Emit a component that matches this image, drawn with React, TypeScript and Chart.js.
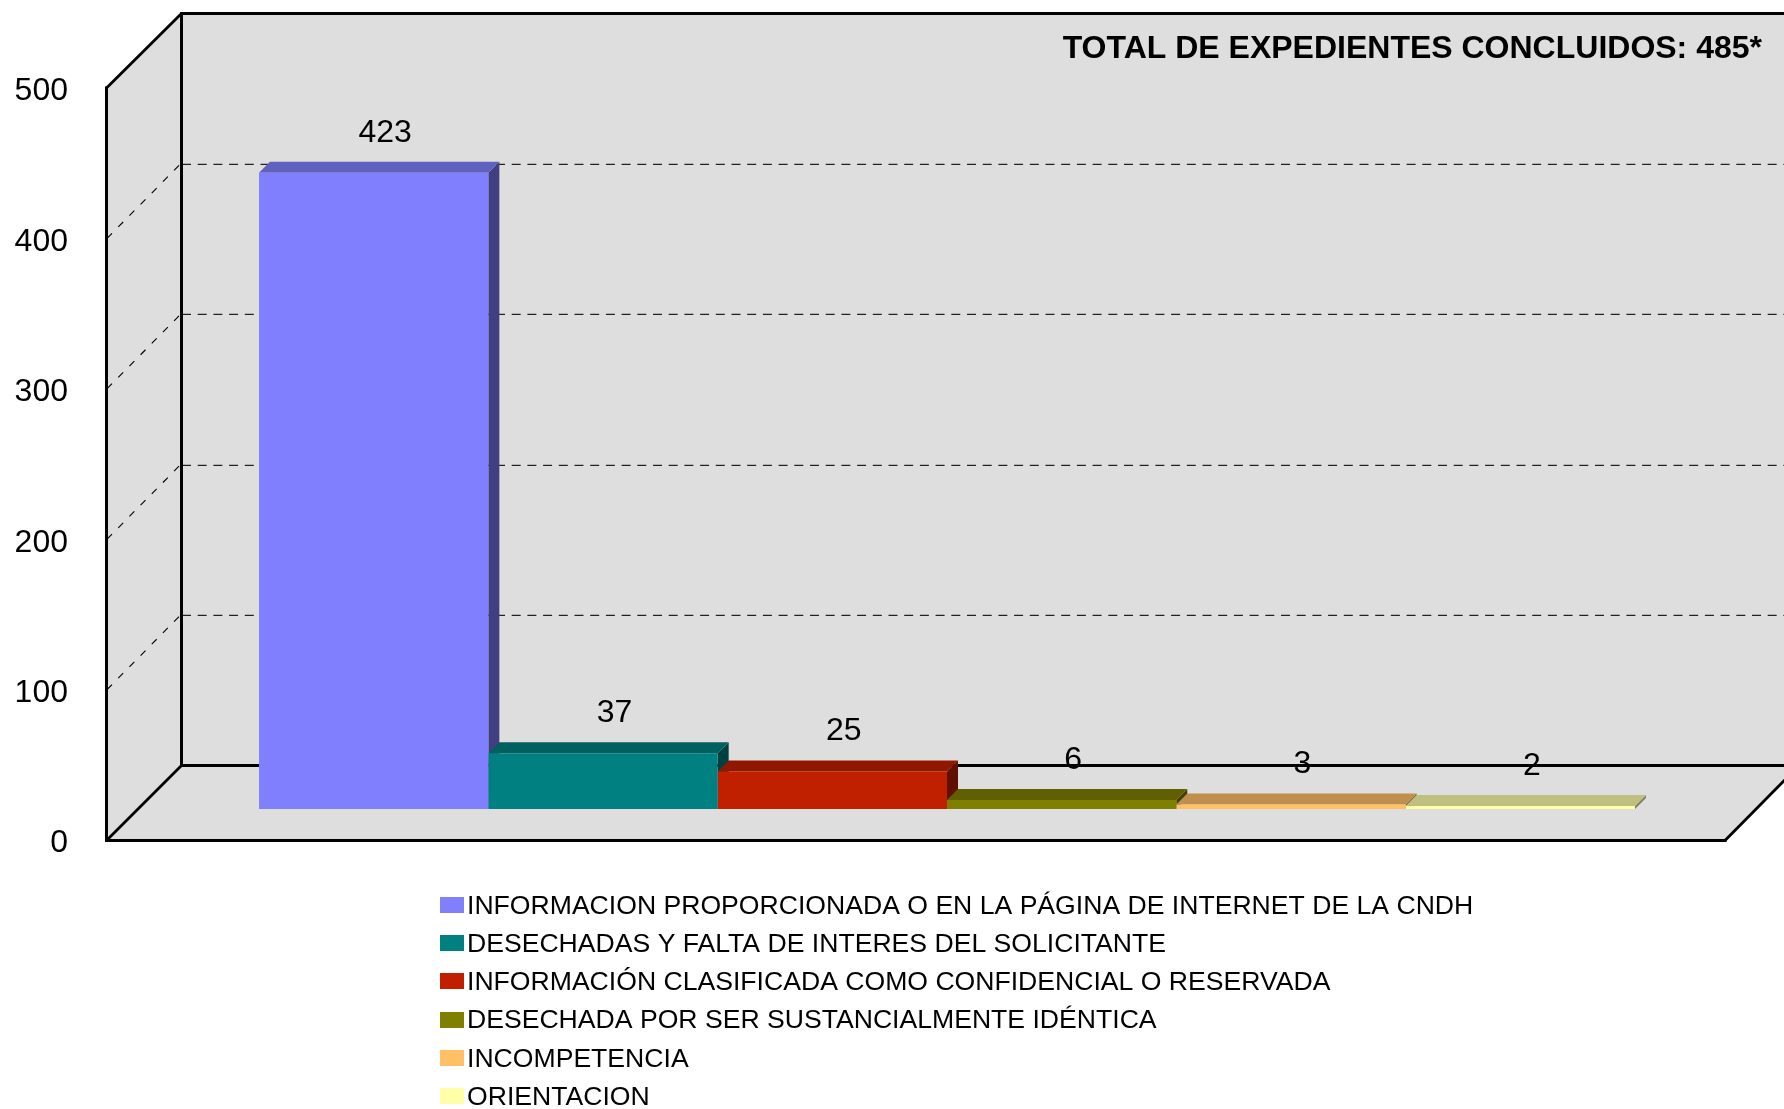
import React, { useEffect, useRef } from "react";
import { Chart, registerables } from "chart.js";

Chart.register(...registerables);

const categories = ["Expedientes concluidos"];
const seriesLabels = [
  "INFORMACION PROPORCIONADA O EN LA PÁGINA DE INTERNET DE LA CNDH",
  "DESECHADAS Y FALTA DE INTERES DEL SOLICITANTE",
  "INFORMACIÓN CLASIFICADA COMO CONFIDENCIAL O RESERVADA",
  "DESECHADA POR SER SUSTANCIALMENTE IDÉNTICA",
  "INCOMPETENCIA",
  "ORIENTACION",
];
const seriesValues = [423, 37, 25, 6, 3, 2];
const frontColors = ["#8080FF", "#008080", "#C02000", "#808000", "#FFC066", "#FFFFA8"];
const topColors = ["#6060BF", "#006060", "#901800", "#606000", "#BF904D", "#BFBF80"];
const sideColors = ["#404080", "#004040", "#601000", "#404000", "#806033", "#808060"];
const yTicks = [0, 100, 200, 300, 400, 500];
const chartTitle = "TOTAL DE EXPEDIENTES CONCLUIDOS: 485*";

const FONT = '"Liberation Sans", Arial, sans-serif';
const WALL_DX = 74;
const WALL_DY = 75;
const BAR_SHIFT = 31;
const BAR_DEPTH = 11;

function poly(ctx: CanvasRenderingContext2D, pts: number[][], fill?: string, stroke?: string) {
  ctx.beginPath();
  pts.forEach((p, i) => (i ? ctx.lineTo(p[0], p[1]) : ctx.moveTo(p[0], p[1])));
  ctx.closePath();
  if (fill) {
    ctx.fillStyle = fill;
    ctx.fill();
  }
  if (stroke) {
    ctx.strokeStyle = stroke;
    ctx.stroke();
  }
}

const wallsPlugin = {
  id: "walls",
  beforeDraw(chart: any) {
    const { ctx } = chart;
    ctx.save();
    ctx.fillStyle = "#fff";
    ctx.fillRect(0, 0, chart.width, chart.height);
    ctx.restore();
  },
  beforeDatasetsDraw(chart: any) {
    const { ctx, chartArea: a, scales, width } = chart;
    const y = scales.y;
    const l = a.left, r = a.right, t = a.top, b = a.bottom;
    const dx = WALL_DX, dy = WALL_DY;
    const farR = width + 40;
    ctx.save();
    const wall = "#DEDEDE";
    poly(ctx, [[l + dx, t - dy], [farR, t - dy], [farR, b - dy], [l + dx, b - dy]], wall);
    poly(ctx, [[l, t], [l + dx, t - dy], [l + dx, b - dy], [l, b]], wall);
    poly(ctx, [[l, b], [l + dx, b - dy], [r + dx, b - dy], [r, b]], wall);

    yTicks.slice(1, -1).forEach((v) => {
      const py = y.getPixelForValue(v);
      const by = Math.ceil(py - dy) + 0.5;
      ctx.save();
      ctx.setLineDash([9, 6.7]);
      ctx.lineWidth = 1;
      ctx.strokeStyle = "#B0B0B0";
      ctx.beginPath();
      ctx.moveTo(l + dx + 1, by - 1);
      ctx.lineTo(width, by - 1);
      ctx.stroke();
      ctx.strokeStyle = "#222";
      ctx.beginPath();
      ctx.moveTo(l + dx + 1, by);
      ctx.lineTo(width, by);
      ctx.stroke();
      ctx.setLineDash([7, 8.9]);
      ctx.strokeStyle = "#000";
      ctx.lineWidth = 1.1;
      ctx.beginPath();
      ctx.moveTo(l + dx - 2, py - dy + 2);
      ctx.lineTo(l, py);
      ctx.stroke();
      ctx.restore();
    });

    const lx = l - 0.5, bx = l + dx + 0.5;
    const ty = t - dy + 0.5, fy = b - dy + 0.5, gy = b + 0.5;
    ctx.strokeStyle = "#000";
    ctx.lineWidth = 3;
    ctx.lineCap = "square";
    ctx.beginPath();
    ctx.moveTo(lx, gy);
    ctx.lineTo(lx, t);
    ctx.moveTo(bx, ty);
    ctx.lineTo(width, ty);
    ctx.moveTo(bx, ty);
    ctx.lineTo(bx, fy);
    ctx.moveTo(bx, fy);
    ctx.lineTo(width, fy);
    ctx.moveTo(lx, gy);
    ctx.lineTo(r, gy);
    ctx.stroke();
    ctx.lineWidth = 2.8;
    ctx.lineCap = "butt";
    ctx.beginPath();
    ctx.moveTo(lx, t);
    ctx.lineTo(bx, ty);
    ctx.moveTo(lx, gy);
    ctx.lineTo(bx, fy);
    ctx.moveTo(r, gy);
    ctx.lineTo(r + dx, fy);
    ctx.stroke();
    ctx.restore();

    // bars are on a plane behind the front one: faces first, left to right
    ctx.save();
    ctx.translate(BAR_SHIFT, -BAR_SHIFT);
    chart.data.datasets.forEach((_: any, i: number) => {
      const bar = chart.getDatasetMeta(i).data[0];
      const x0 = bar.x - bar.width / 2, x1 = bar.x + bar.width / 2;
      const top = bar.y, base = bar.base;
      const d = BAR_DEPTH;
      poly(ctx, [[x1, top], [x1 + d, top - d], [x1 + d, base - d], [x1, base]], sideColors[i]);
      poly(ctx, [[x0, top], [x0 + d, top - d], [x1 + d, top - d], [x1, top]], topColors[i]);
    });
    // leave the context translated for the library's own bar fronts
  },
  afterDatasetsDraw(chart: any) {
    const { ctx } = chart;
    ctx.restore();
    ctx.save();
    ctx.fillStyle = "#000";
    ctx.textBaseline = "middle";
    ctx.textAlign = "center";
    ctx.font = `32px ${FONT}`;
    chart.data.datasets.forEach((ds: any, i: number) => {
      const bar = chart.getDatasetMeta(i).data[0];
      ctx.fillText(String(ds.data[0]), bar.x + BAR_SHIFT + BAR_DEPTH + 0.5, bar.y - BAR_SHIFT - BAR_DEPTH - 29);
    });
    ctx.font = `bold 32px ${FONT}`;
    ctx.textAlign = "right";
    ctx.fillText(chartTitle, 1762, 49.5);

    ctx.textAlign = "left";
    ctx.font = `26.6px ${FONT}`;
    seriesLabels.forEach((label, i) => {
      const cy = 905 + i * 38.2;
      ctx.fillStyle = frontColors[i];
      ctx.fillRect(440, Math.round(cy - 8), 24, 16);
      ctx.fillStyle = "#000";
      ctx.fillText(label, 467, cy + 1.5);
    });
    ctx.restore();
  },
};

export default function App() {
  const ref = useRef<HTMLCanvasElement>(null);
  useEffect(() => {
    document.body.style.margin = "0";
    document.body.style.overflow = "hidden";
    const chart = new Chart(ref.current!, {
      type: "bar",
      data: {
        labels: categories,
        datasets: seriesLabels.map((label, i) => ({
          label,
          data: [seriesValues[i]],
          backgroundColor: frontColors[i],
          borderWidth: 0,
          clip: false as any,
        })),
      },
      options: {
        animation: false,
        responsive: false,
        maintainAspectRatio: false,
        layout: { padding: { left: 0, top: 88, right: 59, bottom: 269 } },
        datasets: { bar: { barPercentage: 1, categoryPercentage: 0.8504 } },
        plugins: { legend: { display: false }, title: { display: false }, tooltip: { enabled: false } },
        scales: {
          x: { display: false },
          y: {
            min: 0,
            max: 500,
            afterFit(scale: any) {
              scale.width = 107;
            },
            afterBuildTicks(scale: any) {
              scale.ticks = yTicks.map((value) => ({ value }));
            },
            grid: { display: false, drawTicks: false },
            border: { display: false },
            ticks: {
              padding: 39,
              labelOffset: 3.5,
              color: "#000",
              font: { family: FONT, size: 32 },
            },
          },
        },
      } as any,
      plugins: [wallsPlugin as any],
    });
    return () => chart.destroy();
  }, []);
  return <canvas ref={ref} width={1784} height={1109} style={{ display: "block", width: 1784, height: 1109 }} />;
}
